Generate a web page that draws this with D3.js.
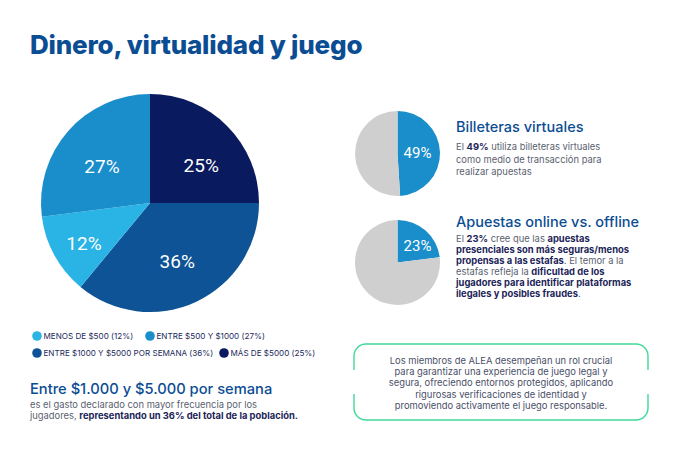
<!DOCTYPE html>
<html>
<head>
<meta charset="utf-8">
<script src="https://cdn.jsdelivr.net/npm/d3@7"></script>
<style>
  body { margin: 0; background: #fff; }
  text { font-family: Inter, "Noto Sans", sans-serif; }
</style>
</head>
<body>
<div id="chart"></div>
<script>
// main pie, clockwise from 12 o'clock
const gastoLabels = ['MÁS DE $5000 (25%)', 'ENTRE $1000 Y $5000 POR SEMANA (36%)', 'MENOS DE $500 (12%)', 'ENTRE $500 Y $1000 (27%)']
const gastoValues = [25, 36, 12, 27]
const gastoColors = ['#0a1a5e', '#0e5395', '#2ab4e6', '#1a8dcb']
// legend reading order
const legendOrder = [2, 3, 1, 0]

const billeteras = [49, 51]
const presencial = [23, 77]

async function draw () {
  const dimensions = { width: 676, height: 470 }

  const svg = d3.select('#chart')
    .append('svg')
    .attr('width', dimensions.width)
    .attr('height', dimensions.height)

  // title
  svg.append('text')
    .attr('x', 30).attr('y', 54)
    .attr('font-size', 26).attr('font-weight', 800)
    .attr('fill', '#0b4d93')
    .attr('letter-spacing', -0.2)
    .text('Dinero, virtualidad y juego')

  // main pie
  const pie = d3.pie().sort(null).value(d => d)
  const arc = d3.arc().innerRadius(0).outerRadius(109)
  const labelArc = d3.arc().innerRadius(64).outerRadius(64)

  const mainPie = svg.append('g').attr('transform', 'translate(150,203)')
  const arcs = pie(gastoValues)
  mainPie.selectAll('path')
    .data(arcs)
    .join('path')
    .attr('d', arc)
    .attr('fill', (d, i) => gastoColors[i])

  const labelNudge = [[6, 8], [0, 0], [-10, 10], [0, 6]]
  mainPie.selectAll('text')
    .data(arcs)
    .join('text')
    .attr('transform', (d, i) => {
      const c = labelArc.centroid(d)
      return `translate(${c[0] + labelNudge[i][0]},${c[1] + labelNudge[i][1]})`
    })
    .attr('text-anchor', 'middle')
    .attr('dy', '0.35em')
    .attr('fill', '#fff')
    .attr('font-size', 19)
    .style('font-family', 'Roboto, sans-serif')
    .text(d => d.data + '%')

  // legend
  const legendPos = [[37, 336], [150, 336], [37, 353], [224, 353]]
  const legend = svg.append('g')
  legendOrder.forEach((idx, k) => {
    const [lx, ly] = legendPos[k]
    legend.append('circle').attr('cx', lx).attr('cy', ly).attr('r', 4.8).attr('fill', gastoColors[idx])
    legend.append('text')
      .attr('x', lx + 6.5).attr('y', ly + 3)
      .attr('font-size', 8.1)
      .attr('fill', '#1c2a5c')
      .text(gastoLabels[idx])
  })

  // bottom-left highlight
  svg.append('text')
    .attr('x', 30).attr('y', 394)
    .attr('font-size', 14.7).attr('font-weight', 500)
    .attr('fill', '#0b4d93')
    .text('Entre $1.000 y $5.000 por semana')

  const para = (x, y, lines, opts = {}) => {
    const t = svg.append('text')
      .attr('x', x).attr('y', y)
      .attr('font-size', opts.size || 9.4)
      .attr('fill', '#5a5f70')
      .attr('text-anchor', opts.anchor || 'start')
    lines.forEach((line, li) => {
      line.forEach((seg, si) => {
        const ts = t.append('tspan').text(seg[0])
        if (si === 0) ts.attr('x', x).attr('dy', li === 0 ? 0 : opts.lh || 11)
        if (seg[1]) ts.attr('font-weight', 700).attr('fill', '#1c2457')
      })
    })
    return t
  }

  para(30, 408, [
    [['es el gasto declarado con mayor frecuencia por los']],
    [['jugadores, '], ['representando un 36% del total de la población.', true]]
  ])

  // small pies
  const smallArc = d3.arc().innerRadius(0).outerRadius(42.5)
  const smallPie = (cx, cy, values, labelY) => {
    const g = svg.append('g').attr('transform', `translate(${cx},${cy})`)
    g.selectAll('path')
      .data(pie(values))
      .join('path')
      .attr('d', smallArc)
      .attr('fill', (d, i) => i === 0 ? '#1a8dcb' : '#cfcfd0')
    g.append('text')
      .attr('x', 20).attr('y', labelY)
      .attr('text-anchor', 'middle').attr('dy', '0.35em')
      .attr('fill', '#fff').attr('font-size', 15)
      .style('font-family', 'Roboto, sans-serif')
      .text(values[0] + '%')
  }
  smallPie(397.5, 153.5, billeteras, -1)
  smallPie(397.5, 262.5, presencial, -17)

  svg.append('text')
    .attr('x', 456).attr('y', 132)
    .attr('font-size', 14.5).attr('font-weight', 500)
    .attr('fill', '#0b4d93')
    .text('Billeteras virtuales')

  para(456, 150, [
    [['El '], ['49%', true], [' utiliza billeteras virtuales']],
    [['como medio de transacción para']],
    [['realizar apuestas']]
  ], { lh: 12.5 })

  svg.append('text')
    .attr('x', 456).attr('y', 227)
    .attr('font-size', 14.5).attr('font-weight', 500)
    .attr('fill', '#0b4d93')
    .text('Apuestas online vs. offline')

  para(456, 242, [
    [['El '], ['23%', true], [' cree que las '], ['apuestas', true]],
    [['presenciales son más seguras/menos', true]],
    [['propensas a las estafas', true], ['. El temor a la']],
    [['estafas refleja la '], ['dificultad de los', true]],
    [['jugadores para identificar plataformas', true]],
    [['ilegales y posibles fraudes', true], ['.']]
  ], { lh: 11 })

  // green box with open sides
  const bx0 = 354, bx1 = 648, by0 = 344, by1 = 420, r = 12, leg = 14
  const box = d3.path()
  box.moveTo(bx0, by0 + r + leg)
  box.lineTo(bx0, by0 + r)
  box.arcTo(bx0, by0, bx0 + r, by0, r)
  box.lineTo(bx1 - r, by0)
  box.arcTo(bx1, by0, bx1, by0 + r, r)
  box.lineTo(bx1, by0 + r + leg)
  box.moveTo(bx0, by1 - r - leg)
  box.lineTo(bx0, by1 - r)
  box.arcTo(bx0, by1, bx0 + r, by1, r)
  box.lineTo(bx1 - r, by1)
  box.arcTo(bx1, by1, bx1, by1 - r, r)
  box.lineTo(bx1, by1 - r - leg)
  svg.append('path')
    .attr('d', box.toString())
    .attr('fill', 'none')
    .attr('stroke', '#3fd99a')
    .attr('stroke-width', 1.4)

  const boxText = para(501, 364, [
    [['Los miembros de ALEA desempeñan un rol crucial']],
    [['para garantizar una experiencia de juego legal y']],
    [['segura, ofreciendo entornos protegidos, aplicando']],
    [['rigurosas verificaciones de identidad y']],
    [['promoviendo activamente el juego responsable.']]
  ], { anchor: 'middle', lh: 11.2 })
  boxText.attr('fill', '#4a4f68')
}

draw()
</script>
</body>
</html>
